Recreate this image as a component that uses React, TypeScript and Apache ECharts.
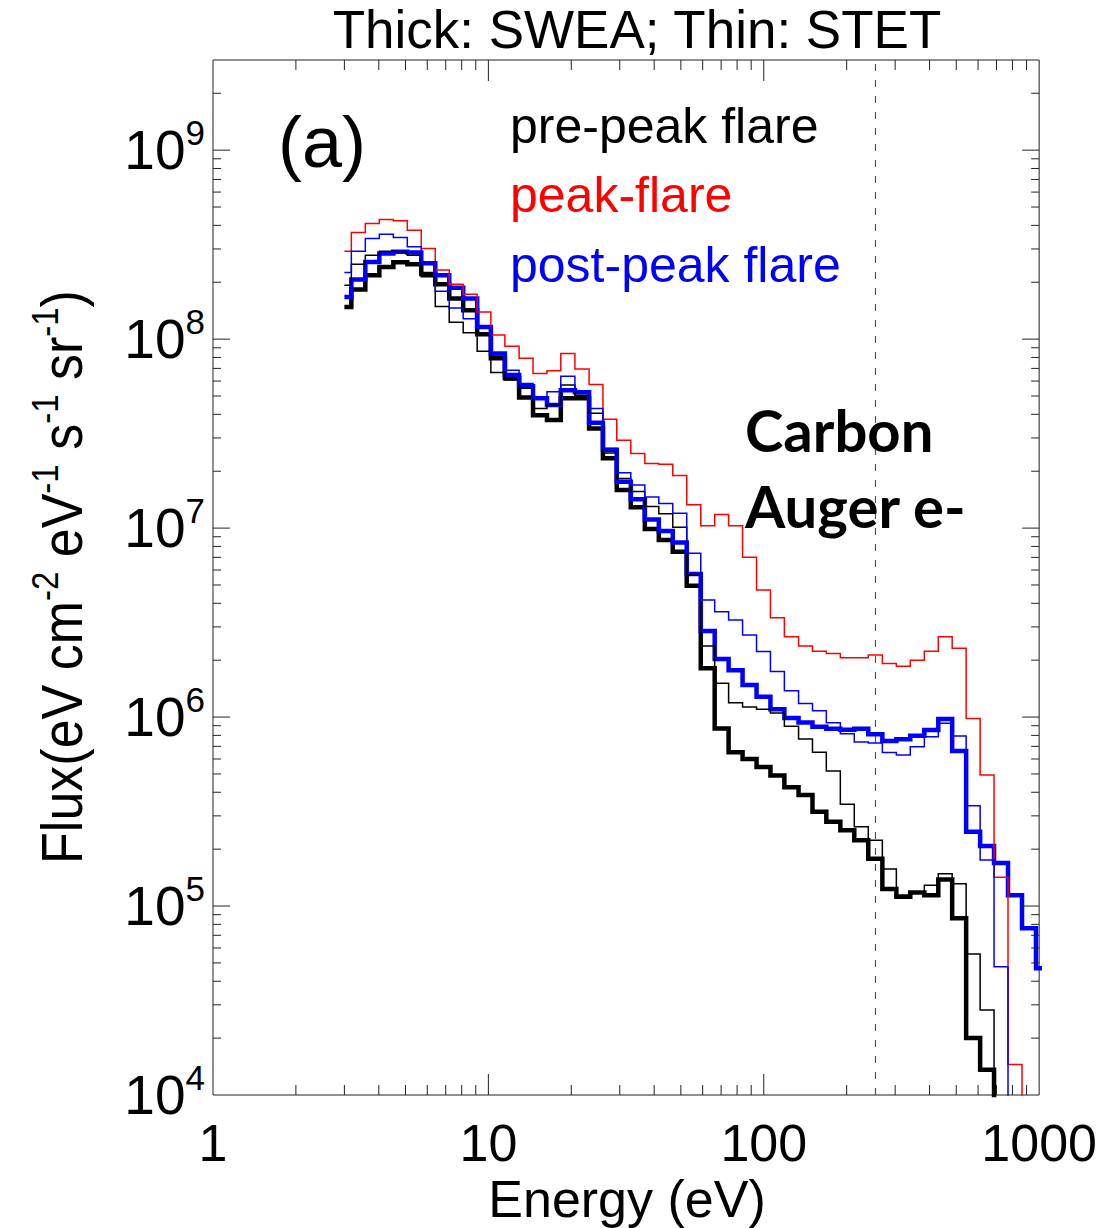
import React, { useEffect, useRef } from 'react';
import * as echarts from 'echarts';

// Bin centre energies (eV), log-spaced instrument energy steps
const energies = [
  3.00, 3.37, 3.79, 4.26, 4.79, 5.38, 6.05, 6.80, 7.64, 8.59,
  9.65, 10.8, 12.2, 13.7, 15.4, 17.3, 19.4, 21.9, 24.6, 27.6,
  31.0, 34.9, 39.2, 44.1, 49.5, 55.7, 62.6, 70.3, 79.0, 88.8,
  99.8, 112, 126, 142, 159, 179, 201, 226, 254, 286,
  321, 361, 406, 456, 512, 576, 647, 727, 817, 919, 1032,
];

// Thin red: peak-flare (STET)
const peakThin = [
  2.92e8, 3.67e8, 4.09e8, 4.30e8, 4.23e8, 3.77e8, 3.02e8, 2.32e8, 1.95e8, 1.73e8,
  1.39e8, 1.05e8, 9.18e7, 7.91e7, 6.58e7, 6.80e7, 8.40e7, 6.94e7, 5.76e7, 3.77e7,
  2.92e7, 2.48e7, 2.20e7, 2.18e7, 1.90e7, 1.33e7, 1.03e7, 1.18e7, 1.03e7, 7.02e6,
  4.70e6, 3.35e6, 2.66e6, 2.38e6, 2.23e6, 2.17e6, 2.06e6, 2.06e6, 2.13e6, 1.92e6,
  1.86e6, 2.00e6, 2.23e6, 2.66e6, 2.31e6, 9.84e5, 4.93e5, 1.42e5, 1.45e4, 5.0e3,
];

// Thin blue: post-peak flare (STET)
const postThin = [
  2.25e8, 2.92e8, 3.41e8, 3.59e8, 3.45e8, 3.08e8, 2.56e8, 1.79e8, 1.46e8, 1.28e8,
  1.16e8, 8.23e7, 6.85e7, 5.83e7, 4.91e7, 5.26e7, 6.37e7, 5.33e7, 4.30e7, 2.64e7,
  1.96e7, 1.69e7, 1.46e7, 1.35e7, 1.20e7, 7.35e6, 4.16e6, 3.61e6, 3.26e6, 2.72e6,
  2.22e6, 1.74e6, 1.38e6, 1.18e6, 1.08e6, 9.33e5, 8.16e5, 7.37e5, 7.29e5, 6.49e5,
  6.30e5, 6.96e5, 7.87e5, 9.26e5, 7.93e5, 3.39e5, 1.75e5, 4.77e4, 5.0e3,
];

// Thick blue: post-peak flare (SWEA)
const postThick = [
  1.67e8, 2.07e8, 2.56e8, 2.84e8, 2.90e8, 2.87e8, 2.52e8, 2.18e8, 1.87e8, 1.64e8,
  1.16e8, 8.40e7, 6.45e7, 5.64e7, 4.87e7, 4.48e7, 5.37e7, 5.24e7, 3.61e7, 2.60e7,
  1.76e7, 1.42e7, 1.11e7, 9.64e6, 8.38e6, 5.71e6, 2.85e6, 2.03e6, 1.77e6, 1.48e6,
  1.28e6, 1.10e6, 9.90e5, 9.35e5, 8.89e5, 8.66e5, 8.57e5, 8.66e5, 8.11e5, 7.46e5,
  7.62e5, 7.96e5, 8.54e5, 9.76e5, 6.61e5, 2.47e5, 2.08e5, 1.69e5, 1.14e5, 7.62e4, 4.68e4,
];

// Thick black: pre-peak flare (SWEA)
const preThick = [
  1.48e8, 1.83e8, 2.18e8, 2.41e8, 2.55e8, 2.49e8, 2.21e8, 1.95e8, 1.64e8, 1.42e8,
  1.06e8, 7.91e7, 6.20e7, 4.91e7, 3.96e7, 3.73e7, 4.86e7, 4.86e7, 3.37e7, 2.34e7,
  1.59e7, 1.29e7, 9.88e6, 8.64e6, 7.49e6, 4.96e6, 1.81e6, 8.71e5, 6.51e5, 5.99e5,
  5.44e5, 4.90e5, 4.25e5, 3.87e5, 3.15e5, 2.79e5, 2.52e5, 2.23e5, 1.78e5, 1.23e5,
  1.12e5, 1.18e5, 1.14e5, 1.38e5, 8.61e4, 2.00e4, 1.36e4, 5.0e3,
];

// Thin black: pre-peak flare (STET)
const preThin = [
  1.93e8, 2.49e8, 2.78e8, 2.92e8, 2.90e8, 2.78e8, 2.14e8, 1.49e8, 1.23e8, 1.08e8,
  8.62e7, 6.65e7, 6.07e7, 5.49e7, 4.30e7, 4.48e7, 5.71e7, 5.05e7, 4.05e7, 2.50e7,
  1.83e7, 1.56e7, 1.30e7, 1.19e7, 1.01e7, 5.64e6, 2.38e6, 1.51e6, 1.19e6, 1.13e6,
  1.10e6, 1.05e6, 8.93e5, 7.65e5, 6.51e5, 5.18e5, 3.46e5, 2.63e5, 2.23e5, 1.57e5,
  1.14e5, 1.18e5, 1.29e5, 1.48e5, 1.31e5, 5.57e4, 2.82e4, 5.0e3,
];

const xMajorTicks = [10, 100];
const xDecades = [1, 10, 100];
const yMajorTicks = [1e5, 1e6, 1e7, 1e8, 1e9];
const yDecades = [1e4, 1e5, 1e6, 1e7, 1e8, 1e9];
const minorMultipliers = [2, 3, 4, 5, 6, 7, 8, 9];
const augerEnergy = 253;

const X_MIN = 1;
const X_MAX = 1000;
const Y_MIN = 1e4;
const Y_MAX = 3e9;

const FONT = '"Liberation Sans", Arial, Helvetica, sans-serif';
const BOLD_FONT = 'Lato, "Open Sans", sans-serif';

function pairs(vals: number[]) {
  return vals.map((v, i) => [energies[i], v]);
}

function stepSeries(name: string, vals: number[], color: string, width: number, z: number, extra: any = {}) {
  return {
    name,
    type: 'line',
    step: 'middle',
    data: pairs(vals),
    showSymbol: false,
    symbol: 'none',
    clip: true,
    z,
    lineStyle: { color, width, cap: 'butt', join: 'miter' },
    emphasis: { disabled: true },
    ...extra,
  };
}

function text(x: number, y: number, str: string, size: number, color: string, align: string, extra: any = {}) {
  return {
    type: 'text',
    x,
    y,
    silent: true,
    z: 20,
    style: {
      text: str,
      fill: color,
      fontSize: size,
      fontFamily: FONT,
      align,
      textAlign: align,
      verticalAlign: 'middle',
      textVerticalAlign: 'middle',
      ...extra,
    },
  };
}

export default function App() {
  const ref = useRef<HTMLDivElement>(null);

  useEffect(() => {
    if (!ref.current) return;
    const chart = echarts.init(ref.current, null, { renderer: 'svg' });

    const tickSeries = {
      type: 'custom',
      silent: true,
      z: 10,
      data: [[10, 1e6]],
      renderItem: (params: any, api: any) => {
        const cs = params.coordSys;
        const st = { stroke: '#222', lineWidth: 1 };
        const children: any[] = [];
        const bottom = cs.y + cs.height;
        const right = cs.x + cs.width;
        const addX = (v: number, len: number) => {
          const px = api.coord([v, 1e6])[0];
          children.push({ type: 'line', shape: { x1: px, y1: bottom, x2: px, y2: bottom - len }, style: st });
          children.push({ type: 'line', shape: { x1: px, y1: cs.y, x2: px, y2: cs.y + len }, style: st });
        };
        const addY = (v: number, len: number) => {
          const py = api.coord([10, v])[1];
          children.push({ type: 'line', shape: { x1: cs.x, y1: py, x2: cs.x + len, y2: py }, style: st });
          children.push({ type: 'line', shape: { x1: right, y1: py, x2: right - len, y2: py }, style: st });
        };
        xMajorTicks.forEach((v) => addX(v, 21));
        xDecades.forEach((d) => minorMultipliers.forEach((m) => addX(m * d, 10)));
        yMajorTicks.forEach((v) => addY(v, 17));
        yDecades.forEach((d) =>
          minorMultipliers.forEach((m) => {
            if (m * d < Y_MAX) addY(m * d, 8);
          })
        );
        return { type: 'group', children };
      },
    };

    const option: any = {
      animation: false,
      backgroundColor: '#fff',
      grid: {
        left: 213,
        top: 60,
        right: 58,
        bottom: 133,
        show: true,
        borderColor: '#222',
        borderWidth: 1,
        backgroundColor: 'transparent',
      },
      xAxis: {
        type: 'log',
        logBase: 10,
        min: X_MIN,
        max: X_MAX,
        axisLine: { show: false },
        axisTick: { show: false },
        splitLine: { show: false },
        minorTick: { show: false },
        minorSplitLine: { show: false },
        axisLabel: {
          fontSize: 52,
          fontFamily: FONT,
          color: '#000',
          margin: 22,
          showMinLabel: true,
          showMaxLabel: true,
          formatter: (v: number) => String(Math.round(v)),
        },
      },
      yAxis: {
        type: 'log',
        logBase: 10,
        min: Y_MIN,
        max: Y_MAX,
        axisLine: { show: false },
        axisTick: { show: false },
        splitLine: { show: false },
        minorTick: { show: false },
        minorSplitLine: { show: false },
        axisLabel: {
          margin: 8,
          showMaxLabel: false,
          color: '#000',
          formatter: (v: number) => {
            const e = Math.round(Math.log10(v));
            return '{b|10}{s|' + e + '}';
          },
          rich: {
            b: { fontSize: 55, fontFamily: FONT, color: '#000', lineHeight: 70 },
            s: { fontSize: 35, fontFamily: FONT, color: '#000', lineHeight: 35, verticalAlign: 'top' },
          },
        },
      },
      series: [
        stepSeries('pre-peak thick', preThick, '#000000', 4.5, 2),
        stepSeries('post-peak thick', postThick, '#0000ff', 4.5, 3),
        stepSeries('pre-peak thin', preThin, '#000000', 1.5, 4, {
          markLine: {
            silent: true,
            symbol: 'none',
            label: { show: false },
            lineStyle: { color: '#555', width: 1.2, type: [7, 9] },
            data: [{ xAxis: augerEnergy }],
          },
        }),
        stepSeries('peak thin', peakThin, '#ff0000', 1.5, 5),
        stepSeries('post-peak thin', postThin, '#0000ff', 1.5, 6),
        tickSeries,
      ],
      graphic: [
        text(637, 29, 'Thick: SWEA; Thin: STET', 53, '#000', 'center'),
        text(627, 1199, 'Energy (eV)', 52, '#000', 'center'),
        text(322, 142, '(a)', 72, '#000', 'center'),
        text(510, 126, 'pre-peak flare', 50, '#000', 'left'),
        text(510, 195, 'peak-flare', 50, '#ff0000', 'left'),
        text(510, 265, 'post-peak flare', 50, '#0000ff', 'left'),
        text(745, 429, 'Carbon', 58, '#000', 'left', { fontFamily: BOLD_FONT, fontWeight: 'bold' }),
        text(745, 505, 'Auger e-', 58, '#000', 'left', { fontFamily: BOLD_FONT, fontWeight: 'bold' }),
        {
          type: 'text',
          x: 62,
          y: 577,
          rotation: Math.PI / 2,
          scaleY: 1.12,
          silent: true,
          z: 20,
          style: {
            text: '{n|Flux(eV cm}{s|-2}{n| eV}{s|-1}{n| s}{s|-1}{n| sr}{s|-1}{n|)}',
            align: 'center',
            textAlign: 'center',
            verticalAlign: 'middle',
            textVerticalAlign: 'middle',
            fill: '#000',
            rich: {
              n: { fontSize: 52, fontFamily: FONT, fill: '#000', lineHeight: 64 },
              s: { fontSize: 33, fontFamily: FONT, fill: '#000', lineHeight: 33, verticalAlign: 'top' },
            },
          },
        },
      ],
    };

    chart.setOption(option);
    return () => chart.dispose();
  }, []);

  return (
    <div
      ref={ref}
      style={{ position: 'absolute', left: 0, top: 0, width: 1100, height: 1228, background: '#fff' }}
    />
  );
}
